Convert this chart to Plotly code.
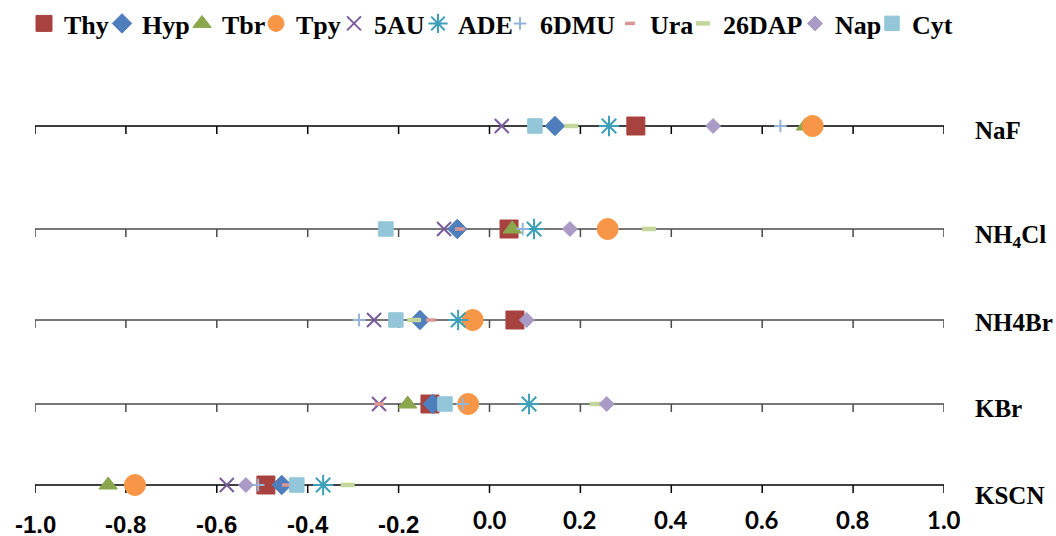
import plotly.graph_objects as go

# ---------------- data ----------------
salts = ["NaF", "NH<sub>4</sub>Cl", "NH4Br", "KBr", "KSCN"]
series_names = ["Thy", "Hyp", "Tbr", "Tpy", "5AU", "ADE", "6DMU", "Ura", "26DAP", "Nap", "Cyt"]

# values for each series, in salt order (NaF, NH4Cl, NH4Br, KBr, KSCN)
thy = [0.322, 0.043, 0.056, -0.131, -0.492]
hyp = [0.144, -0.071, -0.153, -0.125, -0.457]
tbr = [0.695, 0.050, -0.043, -0.180, -0.839]
tpy = [0.711, 0.260, -0.037, -0.047, -0.780]
au5 = [0.027, -0.100, -0.254, -0.243, -0.578]
ade = [0.263, 0.098, -0.069, 0.087, -0.366]
dmu6 = [0.640, 0.073, -0.287, -0.059, -0.509]
ura = [0.180, -0.065, -0.129, -0.243, -0.446]
dap26 = [0.180, 0.351, -0.166, 0.236, -0.312]
nap = [0.492, 0.177, 0.082, 0.258, -0.536]
cyt = [0.100, -0.228, -0.206, -0.098, -0.424]

tick_vals = [-1.0, -0.8, -0.6, -0.4, -0.2, 0.0, 0.2, 0.4, 0.6, 0.8, 1.0]
tick_text = ["-1.0", "-0.8", "-0.6", "-0.4", "-0.2", "0.0", "0.2", "0.4", "0.6", "0.8", "1.0"]

series_values = [thy, hyp, tbr, tpy, au5, ade, dmu6, ura, dap26, nap, cyt]

# ---------------- layout / styles ----------------
W, H = 1056, 536
ROW_Y = [126, 229, 320, 404, 485]          # vertical pixel position of each salt line
ROW_LABEL_Y = [130, 236, 322, 408, 495]
ROW_LINE_COLOR = ["#000000", "#4a4a4a", "#4a4a4a", "#4a4a4a", "#000000"]
TICK_LEN = 8
PLOT_L, PLOT_R = 35, 944
PLOT_W = PLOT_R - PLOT_L
LEGEND_SYM_PX = [47, 125, 205, 279, 357, 441, 523, 633, 706, 818, 895]

styles = {
    "Thy":   dict(symbol="square", size=18, color="#A8423F"),
    "Hyp":   dict(symbol="diamond", size=15, color="#4F7EBD"),
    "Tbr":   dict(symbol="triangle-up", size=16, color="#8AA74E"),
    "Tpy":   dict(symbol="circle", size=21, color="#F79646"),
    "5AU":   dict(symbol="x-thin-open", size=14, color="#7A5C9C", lw=2),
    "ADE":   dict(symbol="asterisk-open", size=17, color="#3EA0B8", lw=2),
    "6DMU":  dict(symbol="cross-thin-open", size=9, color="#95B3D7", lw=2),
    "Ura":   dict(symbol="line-ew-open", size=7, color="#D99694", lw=3.5),
    "26DAP": dict(symbol="line-ew-open", size=10, color="#C3D69B", lw=4.5),
    "Nap":   dict(symbol="diamond", size=11.5, color="#A99BC6"),
    "Cyt":   dict(symbol="square", size=14.5, color="#93C6D9"),
}

fig = go.Figure()

# axis lines and tick marks for each salt row
for i, ry in enumerate(ROW_Y):
    fig.add_trace(go.Scatter(
        x=[tick_vals[0], tick_vals[-1]], y=[ry, ry], mode="lines",
        line=dict(color=ROW_LINE_COLOR[i], width=1.5),
        showlegend=False, hoverinfo="skip"))
    tx, ty = [], []
    for v in tick_vals:
        tx += [v, v, None]
        ty += [ry, ry + TICK_LEN, None]
    fig.add_trace(go.Scatter(
        x=tx, y=ty, mode="lines",
        line=dict(color=ROW_LINE_COLOR[i], width=1.5),
        showlegend=False, hoverinfo="skip"))

# data series, each with its own one-item legend so the row matches the reference spacing
legend_layouts = {}
for k, (name, vals) in enumerate(zip(series_names, series_values)):
    st = styles[name]
    lw = st.get("lw", 1)
    lid = "legend" if k == 0 else f"legend{k + 1}"
    fig.add_trace(go.Scatter(
        x=vals, y=ROW_Y, mode="markers", name=name, cliponaxis=False,
        legend=lid,
        marker=dict(symbol=st["symbol"], size=st["size"], color=st["color"],
                    line=dict(color=st["color"], width=lw))))
    legend_layouts[lid] = dict(
        orientation="h",
        x=(LEGEND_SYM_PX[k] - 23 - PLOT_L) / PLOT_W, xanchor="left",
        y=1 - 0 / H, yanchor="top",
        font=dict(family="Liberation Serif", size=26, color="#000000", weight="bold"),
        itemwidth=30, bgcolor="rgba(0,0,0,0)", borderwidth=0)

annotations = []
# row labels
for lab, ly in zip(salts, ROW_LABEL_Y):
    annotations.append(dict(
        x=(973 - PLOT_L) / PLOT_W, xref="paper", y=ly, yref="y",
        text=lab, showarrow=False, xanchor="left", yanchor="middle",
        font=dict(family="Liberation Serif", size=25, color="#000000", weight="bold")))

# bottom tick labels
for v, t in zip(tick_vals, tick_text):
    if v < 0:
        fnt = dict(family="Liberation Sans", size=24, color="#000000", weight="bold")
        yy = 524
    else:
        fnt = dict(family="Lato", size=24, color="#000000", weight="bold")
        yy = 519
    annotations.append(dict(
        x=v, xref="x", y=yy, yref="y", text=t, showarrow=False, height=22,
        xanchor="center", yanchor="middle", valign="middle", font=fnt))

fig.update_layout(
    width=W, height=H,
    margin=dict(l=PLOT_L, r=W - PLOT_R, t=0, b=0),
    paper_bgcolor="white", plot_bgcolor="white",
    xaxis=dict(range=[-1, 1], visible=False, fixedrange=True),
    yaxis=dict(range=[H, 0], visible=False, fixedrange=True),
    showlegend=True,
    annotations=annotations,
    **legend_layouts,
)

fig.write_html("out.html")
